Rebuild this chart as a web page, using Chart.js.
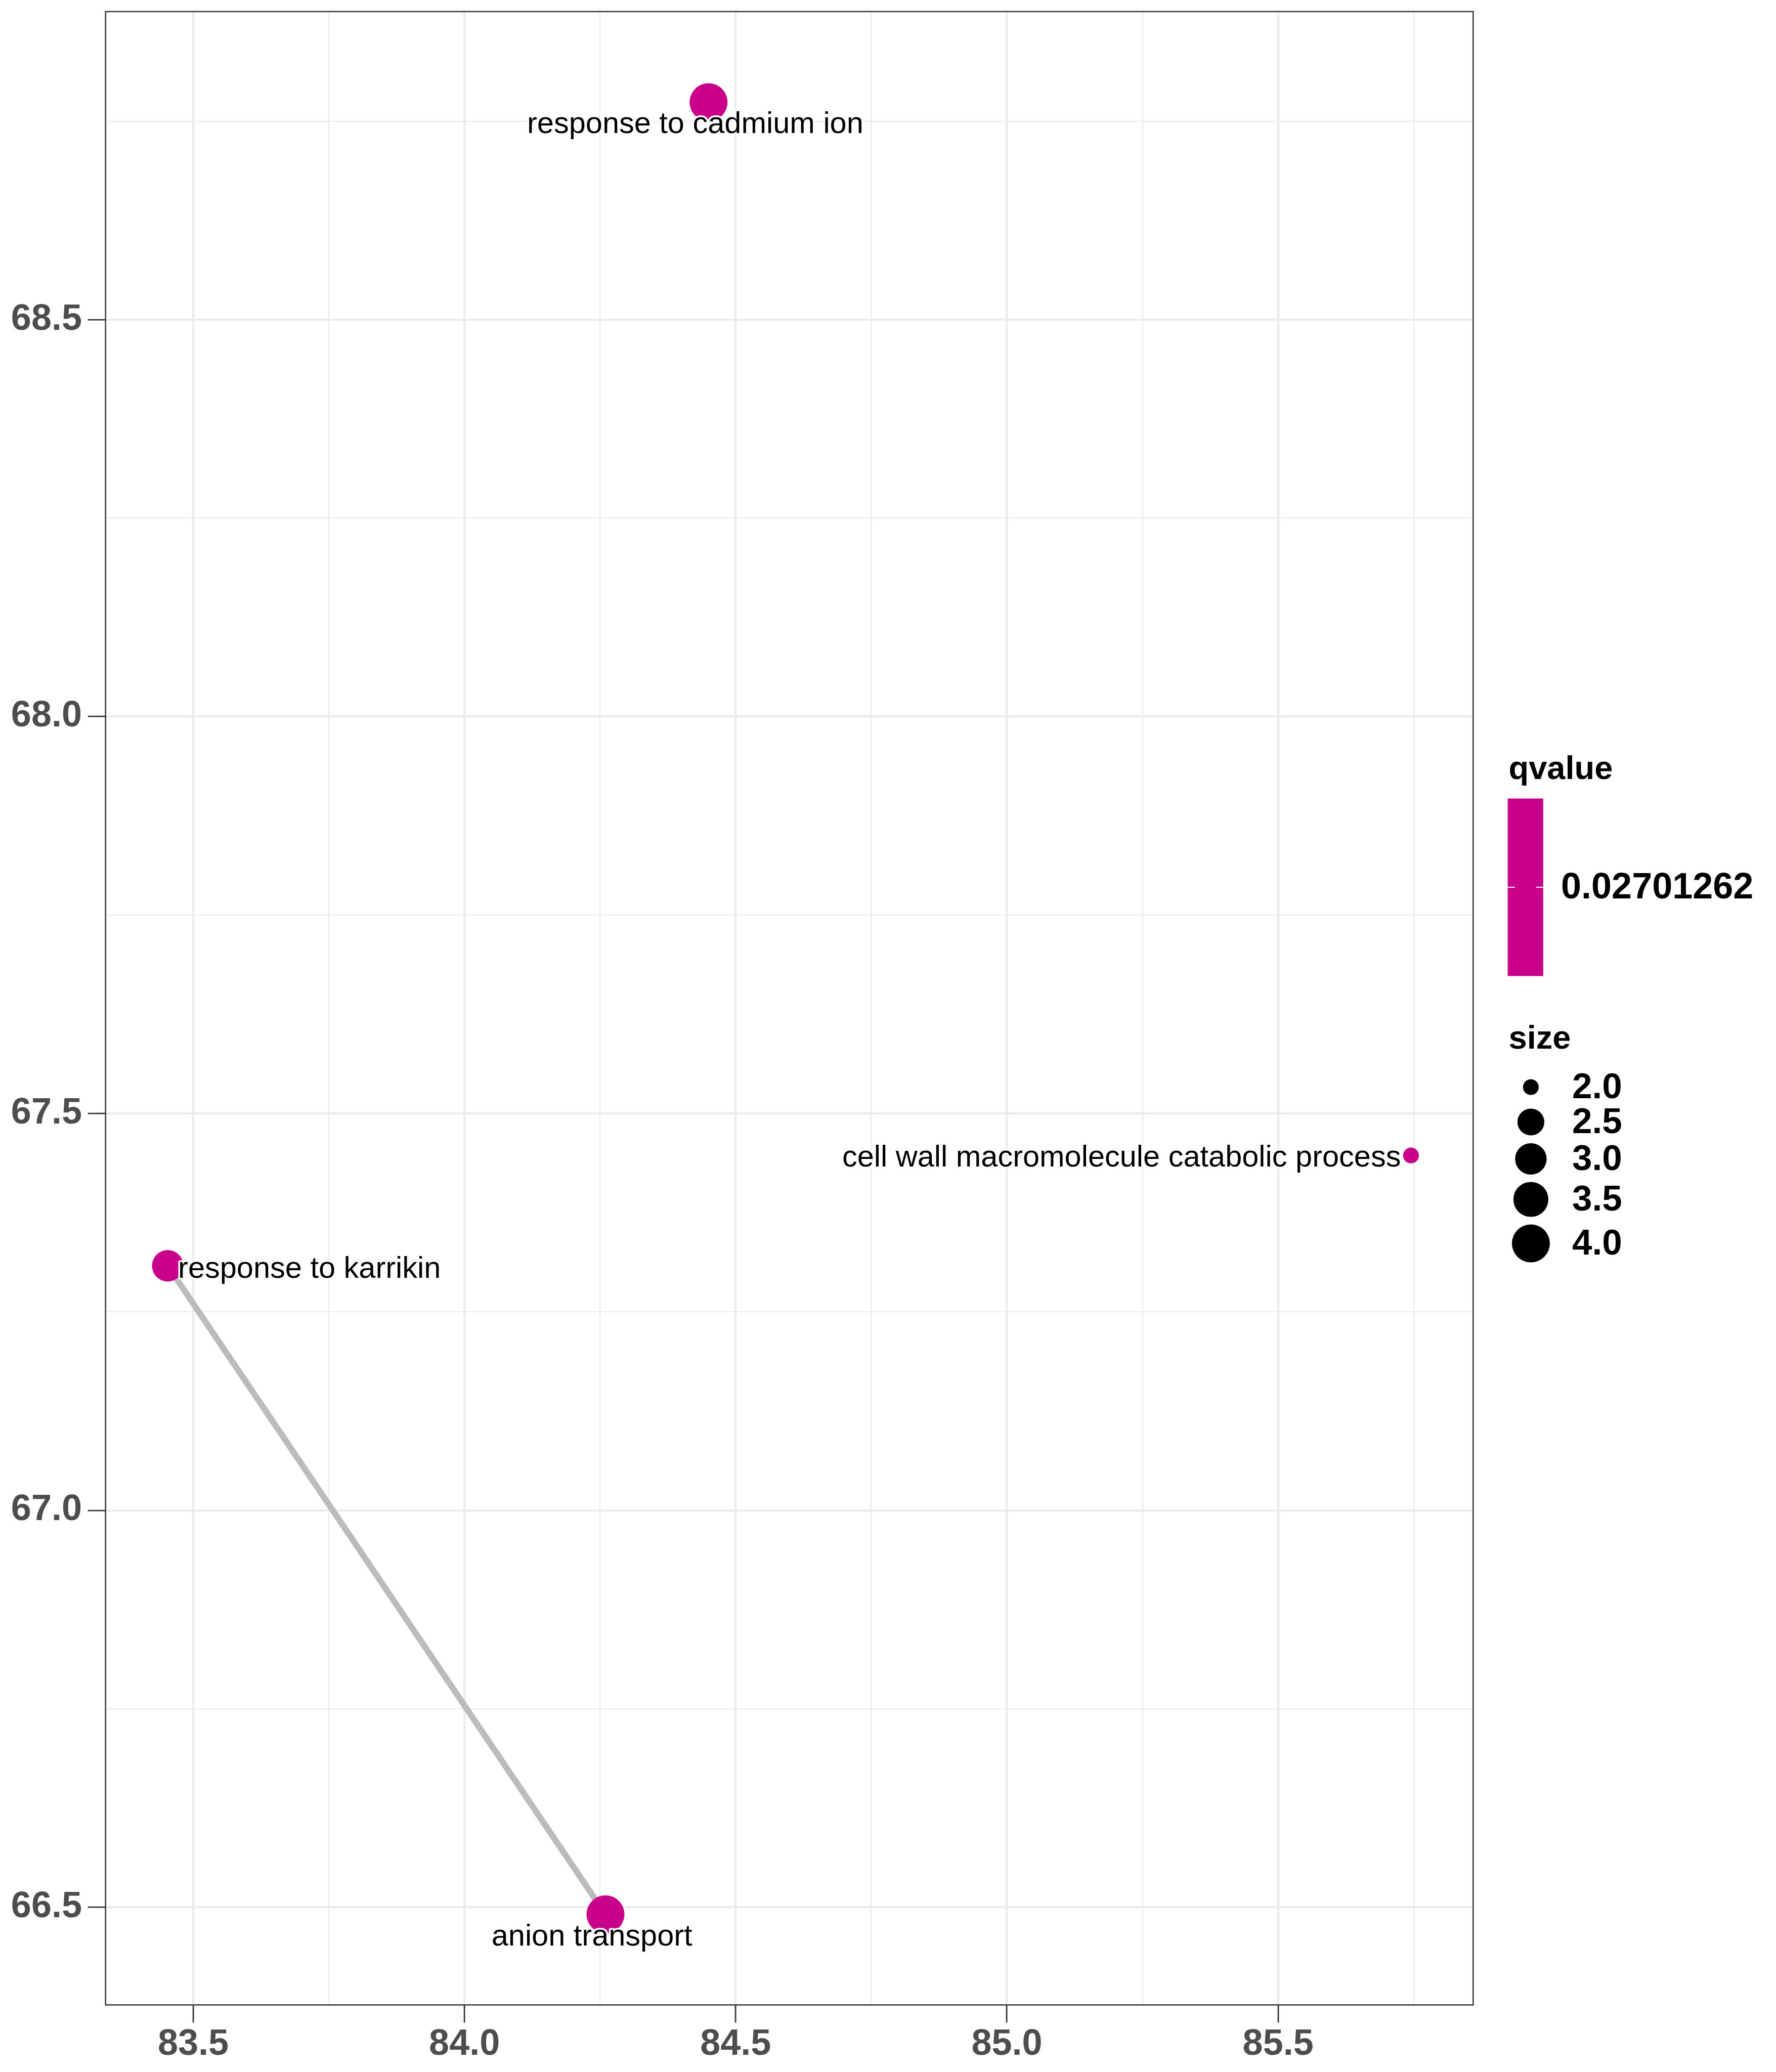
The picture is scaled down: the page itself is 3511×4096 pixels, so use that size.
<!DOCTYPE html>
<html><head><meta charset="utf-8">
<script src="https://cdn.jsdelivr.net/npm/chart.js@4/dist/chart.umd.min.js"></script>
<style>html,body{margin:0;padding:0;background:#fff;}canvas{display:block;}</style>
</head><body>
<canvas id="c" width="3511" height="4096"></canvas>
<script>
// ---- data ----
const termNames = ["response to cadmium ion", "anion transport", "response to karrikin", "cell wall macromolecule catabolic process"];
const termX = [84.450, 84.260, 83.453, 85.745];
const termY = [68.774, 66.491, 67.308, 67.447];
const termSize = [4, 4, 3, 2];
const termQvalue = [0.02701262, 0.02701262, 0.02701262, 0.02701262];
const edgeFrom = [2];
const edgeTo = [1];
const xTickValues = [83.5, 84.0, 84.5, 85.0, 85.5];
const yTickValues = [66.5, 67.0, 67.5, 68.0, 68.5];
const sizeBreaks = [2.0, 2.5, 3.0, 3.5, 4.0];
const qvalueBreakLabels = ["0.02701262"];

// ---- style ----
const S = 0.975;
const POINT_COLOR = '#C9008A';
const FONT = '"Liberation Sans", Arial, sans-serif';
const sizeMin = Math.min(...sizeBreaks), sizeMax = Math.max(...sizeBreaks);
function radiusFor(v) { return S * (32 + 45 * Math.sqrt((v - sizeMin) / (sizeMax - sizeMin))) / 2; }
const labelPlacement = [
  {align: 'center', dx: -26.3, dy: 60.9},
  {align: 'center', dx: -26.8, dy: 61.7},
  {align: 'left', dx: 20.5, dy: 23.4},
  {align: 'right', dx: -20, dy: 21.9}
];

function expand(vals) {
  const lo = Math.min(...vals), hi = Math.max(...vals), pad = (hi - lo) * 0.05;
  return [lo - pad, hi + pad];
}
const [xMin, xMax] = expand(termX);
const [yMin, yMax] = expand(termY);
function withMinors(majors, lo, hi) {
  const step = majors[1] - majors[0];
  const out = [];
  for (let v = majors[0] - step / 2; v <= hi + 1e-9; v += step / 2) {
    if (v >= lo - 1e-9) out.push(Math.round(v * 1000) / 1000);
  }
  return out;
}
const isMajor = (arr, v) => arr.some(m => Math.abs(m - v) < 1e-6);

const scatterData = termX.map((x, i) => ({x: x, y: termY[i]}));
const edgeData = [];
edgeFrom.forEach((f, k) => {
  edgeData.push({x: termX[f], y: termY[f]});
  edgeData.push({x: termX[edgeTo[k]], y: termY[edgeTo[k]]});
  edgeData.push({x: NaN, y: NaN});
});

const bgPlugin = {
  id: 'bg',
  beforeDraw(chart) {
    const c = chart.ctx; c.save(); c.fillStyle = '#fff'; c.fillRect(0, 0, chart.width, chart.height); c.restore();
  }
};

const panelPlugin = {
  id: 'panel',
  afterDatasetsDraw(chart) {
    const c = chart.ctx, a = chart.chartArea;
    // labels
    c.save();
    c.font = `${59.5}px ${FONT}`;
    c.textBaseline = 'alphabetic';
    c.lineJoin = 'round';
    const xs = chart.scales.x, ys = chart.scales.y;
    termNames.forEach((name, i) => {
      const p = labelPlacement[i];
      const px = xs.getPixelForValue(termX[i]) + p.dx;
      const py = ys.getPixelForValue(termY[i]) + p.dy;
      c.textAlign = p.align;
      c.strokeStyle = '#fff'; c.lineWidth = 7;
      c.strokeText(name, px, py);
      c.fillStyle = '#000';
      c.fillText(name, px, py);
    });
    c.restore();
    // border
    c.save();
    c.strokeStyle = '#333333'; c.lineWidth = 2.5;
    c.strokeRect(a.left, a.top, a.right - a.left, a.bottom - a.top);
    c.restore();
  },
  afterDraw(chart) {
    const c = chart.ctx;
    c.save();
    // qvalue legend
    c.fillStyle = '#000';
    c.textAlign = 'left'; c.textBaseline = 'alphabetic';
    c.font = `bold 65px ${FONT}`;
    c.fillText('qvalue', 2982.5, 1539.5);
    c.fillStyle = POINT_COLOR;
    c.fillRect(2980.6, 1578.5, 70.2, 351);
    c.strokeStyle = '#fff'; c.lineWidth = 2;
    c.beginPath();
    c.moveTo(2980.6, 1754); c.lineTo(2994.9, 1754);
    c.moveTo(3036.5, 1754); c.lineTo(3050.8, 1754);
    c.stroke();
    c.fillStyle = '#000';
    c.font = `bold 72px ${FONT}`;
    c.textBaseline = 'middle';
    c.fillText(qvalueBreakLabels[0], 3086, 1756);
    // size legend
    c.textBaseline = 'alphabetic';
    c.font = `bold 65px ${FONT}`;
    c.fillText('size', 2982.5, 2073);
    const rowY = [2149, 2218, 2291, 2371, 2458];
    c.font = `bold 71px ${FONT}`;
    c.textBaseline = 'middle';
    sizeBreaks.forEach((v, i) => {
      c.beginPath();
      c.arc(3026.4, rowY[i], radiusFor(v), 0, Math.PI * 2);
      c.fillStyle = '#000'; c.fill();
      c.fillText(v.toFixed(1), 3108, rowY[i] + 2);
    });
    c.restore();
  }
};

function axisCommon(majors, lo, hi) {
  return {
    type: 'linear', min: lo, max: hi,
    afterBuildTicks(scale) {
      scale.ticks = withMinors(majors, lo, hi).map(v => ({value: v}));
    },
    ticks: {
      autoSkip: false, maxRotation: 0, minRotation: 0,
      color: '#4D4D4D',
      font: {family: FONT, weight: 'bold', size: 72, lineHeight: 1},
      callback: (v) => isMajor(majors, v) ? v.toFixed(1) : ''
    },
    grid: {
      color: '#EBEBEB',
      lineWidth: (ctx) => isMajor(majors, ctx.tick ? ctx.tick.value : NaN) ? 4.2 : 2.1,
      tickColor: (ctx) => isMajor(majors, ctx.tick ? ctx.tick.value : NaN) ? '#333333' : 'rgba(0,0,0,0)',
      tickWidth: 2.8,
      tickLength: 35,
      drawTicks: true
    },
    border: {display: false}
  };
}

const xAxis = axisCommon(xTickValues, xMin, xMax);
xAxis.position = 'bottom';
xAxis.ticks.padding = 8;
xAxis.afterFit = (scale) => { scale.height = 132.6; scale.paddingLeft = 0; scale.paddingRight = 0; };
const yAxis = axisCommon(yTickValues, yMin, yMax);
yAxis.position = 'left';
yAxis.ticks.padding = 11.7;
yAxis.afterFit = (scale) => { scale.width = 208.7; scale.paddingTop = 0; scale.paddingBottom = 0; };

new Chart(document.getElementById('c'), {
  type: 'scatter',
  data: {
    datasets: [
      {
        label: 'terms', data: scatterData,
        backgroundColor: POINT_COLOR, borderWidth: 0,
        pointRadius: termSize.map(radiusFor), pointHoverRadius: termSize.map(radiusFor)
      },
      {
        type: 'line', label: 'edges', data: edgeData,
        borderColor: '#BBBBBB', borderWidth: 12, pointRadius: 0, spanGaps: false,
        showLine: true, fill: false, tension: 0
      }
    ]
  },
  options: {
    responsive: false, animation: false, devicePixelRatio: 1,
    layout: {autoPadding: false, padding: {left: 0, top: 22.9, right: 598.7, bottom: 0}},
    plugins: {legend: {display: false}, tooltip: {enabled: false}},
    scales: {x: xAxis, y: yAxis}
  },
  plugins: [bgPlugin, panelPlugin]
});
</script>
</body></html>
